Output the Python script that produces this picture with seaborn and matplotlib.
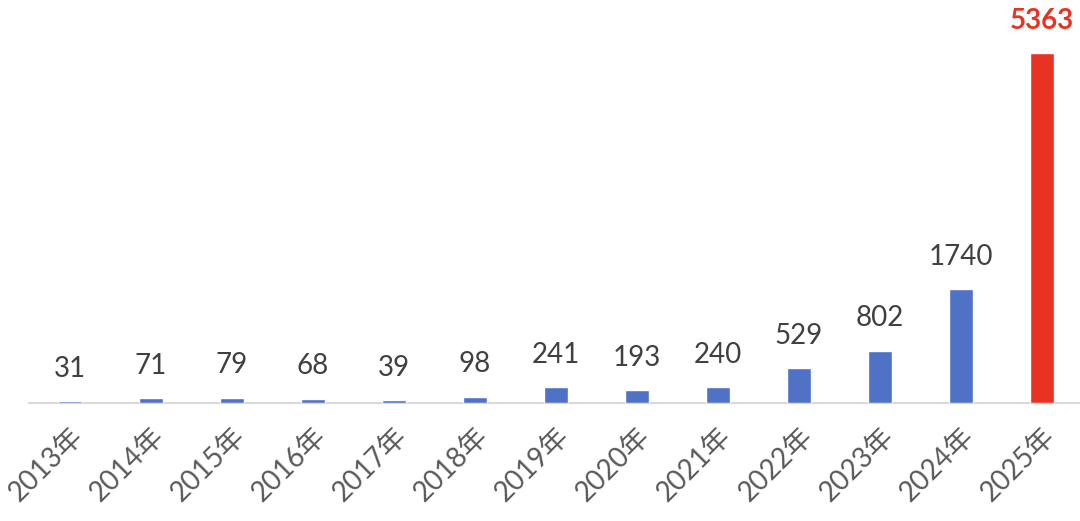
import matplotlib
matplotlib.use("Agg")
import matplotlib.pyplot as plt
import seaborn as sns
import pandas as pd

years = ["2013年", "2014年", "2015年", "2016年", "2017年", "2018年", "2019年",
         "2020年", "2021年", "2022年", "2023年", "2024年", "2025年"]
counts = [31, 71, 79, 68, 39, 98, 241, 193, 240, 529, 802, 1740, 5363]

blue = "#4F71C6"
red = "#E83323"
colors = [blue] * (len(years) - 1) + [red]

df = pd.DataFrame({"year": years, "count": counts})

sns.set_style("white")
plt.rcParams["font.family"] = ["Lato", "Noto Sans CJK SC", "DejaVu Sans"]

fig = plt.figure(figsize=(10.8, 5.21), dpi=100)
ax = fig.add_axes([0.0273, 0.2265, 0.975, 0.7516])

sns.barplot(data=df, x="year", y="count", hue="year", palette=colors,
            legend=False, width=0.29, saturation=1, ax=ax)
for p in ax.patches:
    p.set_zorder(3)

ax.set_ylim(0, 6000)
ax.set_xlim(-0.5, 12.5)

for i, v in enumerate(counts):
    last = i == len(counts) - 1
    ax.annotate(str(v), (i, v), xytext=(0, 14), textcoords="offset points",
                ha="center", va="bottom", fontsize=20,
                color=red if last else "#404040",
                fontweight="bold" if last else "normal")

ax.set_xlabel("")
ax.set_ylabel("")
ax.set_yticks([])
ax.tick_params(axis="x", length=0, pad=14)
for lab in ax.get_xticklabels():
    lab.set_rotation(45)
    lab.set_ha("right")
    lab.set_rotation_mode("anchor")
    lab.set_fontsize(20)
    lab.set_color("#595959")
    lab.set_family(["Lato", "Noto Sans CJK SC", "DejaVu Sans"])

for s in ["top", "right", "left"]:
    ax.spines[s].set_visible(False)
ax.spines["bottom"].set_color("#D9D9D9")
ax.spines["bottom"].set_linewidth(1.5)
ax.spines["bottom"].set_zorder(1)

fig.savefig("out.png", dpi=100)
